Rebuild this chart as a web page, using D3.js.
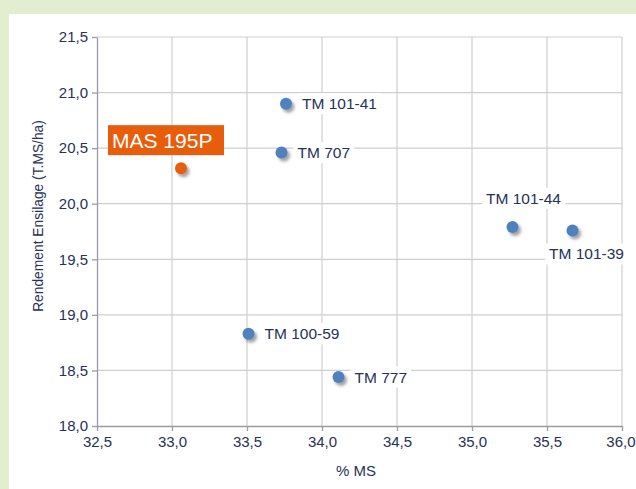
<!DOCTYPE html>
<html><head><meta charset="utf-8">
<script src="https://cdn.jsdelivr.net/npm/d3@7"></script>
<style>
html,body{margin:0;padding:0;background:#e3edd0;}
svg{display:block;}
</style></head>
<body>
<svg id="c" width="636" height="489"></svg>
<script>
// Data
const names = ["MAS 195P","TM 101-41","TM 707","TM 101-44","TM 101-39","TM 100-59","TM 777"];
const pctMS = [33.06, 33.76, 33.73, 35.27, 35.67, 33.51, 34.11];
const rendement = [20.32, 20.90, 20.46, 19.79, 19.76, 18.83, 18.44];
const highlighted = ["MAS 195P"];
const xTicks = [32.5,33.0,33.5,34.0,34.5,35.0,35.5,36.0];
const yTicks = [18.0,18.5,19.0,19.5,20.0,20.5,21.0,21.5];
const xTitle = "% MS";
const yTitle = "Rendement Ensilage (T.MS/ha)";

// Label placement (layout only)
const labelPlace = {
  "MAS 195P": {pos:"box"},
  "TM 101-41": {pos:"right"},
  "TM 707": {pos:"right"},
  "TM 101-44": {pos:"above"},
  "TM 101-39": {pos:"below"},
  "TM 100-59": {pos:"right"},
  "TM 777": {pos:"right"}
};

const svg = d3.select("#c");
svg.append("rect").attr("x",9).attr("y",14).attr("width",627).attr("height",475).attr("fill","#ffffff");

const defs = svg.append("defs");
const f = defs.append("filter").attr("id","sh").attr("x","-50%").attr("y","-50%").attr("width","250%").attr("height","250%");
f.append("feDropShadow").attr("dx",2.5).attr("dy",3).attr("stdDeviation",1.6).attr("flood-color","#555").attr("flood-opacity",0.55);

const L=97, R=622, T=37, B=426;
const x = d3.scaleLinear().domain([32.5,36.0]).range([L,R]);
const y = d3.scaleLinear().domain([18.0,21.5]).range([B,T]);
const fmt = d => d.toFixed(1).replace(".", ",");
const textCol = "#283157";
const font = "Liberation Sans, Arial, sans-serif";

// grid
const g = svg.append("g");
g.selectAll(".vg").data(xTicks.slice(1)).join("line")
  .attr("x1",d=>x(d)).attr("x2",d=>x(d)).attr("y1",T).attr("y2",B)
  .attr("stroke","#cfcfcf").attr("stroke-width",1.2);
g.selectAll(".hg").data(yTicks.slice(1)).join("line")
  .attr("x1",L).attr("x2",R).attr("y1",d=>y(d)).attr("y2",d=>y(d))
  .attr("stroke","#cfcfcf").attr("stroke-width",1.2);

// axes
const xAxis = svg.append("g").attr("transform",`translate(0,${B})`)
  .call(d3.axisBottom(x).tickValues(xTicks).tickFormat(fmt).tickSize(5).tickSizeOuter(0));
const yAxis = svg.append("g").attr("transform",`translate(${L},0)`)
  .call(d3.axisLeft(y).tickValues(yTicks).tickFormat(fmt).tickSize(5).tickSizeOuter(0));
[xAxis,yAxis].forEach(a=>{
  a.attr("font-size",null).attr("font-family",null);
  a.select(".domain").attr("stroke","#9a9aa8").attr("stroke-width",1.3);
  a.selectAll(".tick line").attr("stroke","#9a9aa8").attr("stroke-width",1.3);
  a.selectAll("text").attr("fill",textCol).style("font-family",font).style("font-size","15px");
});
xAxis.selectAll("text").attr("dy","0.71em").attr("y",10);
xAxis.selectAll(".tick").filter(d=>d===36.0).select("text").attr("text-anchor","end").attr("x",13);
yAxis.selectAll("text").attr("x",-9);

svg.append("text").attr("x",356).attr("y",476).attr("text-anchor","middle")
  .attr("fill",textCol).style("font-family",font).style("font-size","15px").text(xTitle);
svg.append("text").attr("transform","translate(43,216) rotate(-90)").attr("text-anchor","middle")
  .attr("fill",textCol).style("font-family",font).style("font-size","13.8px").text(yTitle);

const pts = names.map((n,i)=>({n, x:pctMS[i], y:rendement[i], hl: highlighted.includes(n)}));

// labels
const lg = svg.append("g");
pts.forEach(p=>{
  const px=x(p.x), py=y(p.y);
  const pl = labelPlace[p.n].pos;
  if(pl==="box"){
    lg.append("rect").attr("x",px-73).attr("y",py-43).attr("width",116).attr("height",30).attr("fill","#e85d0c");
    lg.append("text").attr("fill","#fff").style("font-family",font).style("font-size","21px")
      .attr("x",px-69).attr("y",py-20).text(p.n);
    return;
  }
  const t = lg.append("text").attr("fill",textCol).style("font-family",font).style("font-size","15.5px").text(p.n);
  let tx, ty, anchor="start";
  if(pl==="right"){tx=px+16; ty=py+5.5;}
  else if(pl==="above"){tx=px+11; ty=py-23; anchor="middle";}
  else {tx=px+14; ty=py+29; anchor="middle";}
  t.attr("x",tx).attr("y",ty).attr("text-anchor",anchor);
  const bb = t.node().getBBox();
  lg.insert("rect",()=>t.node()).attr("x",bb.x-4).attr("y",bb.y-2).attr("width",bb.width+8).attr("height",bb.height+4).attr("fill","#fff");
});

// points
svg.append("g").selectAll("circle").data(pts).join("circle")
  .attr("cx",d=>x(d.x)).attr("cy",d=>y(d.y)).attr("r",6)
  .attr("fill",d=>d.hl?"#e85d0c":"#4f81bd").attr("filter","url(#sh)");
</script>
</body></html>
